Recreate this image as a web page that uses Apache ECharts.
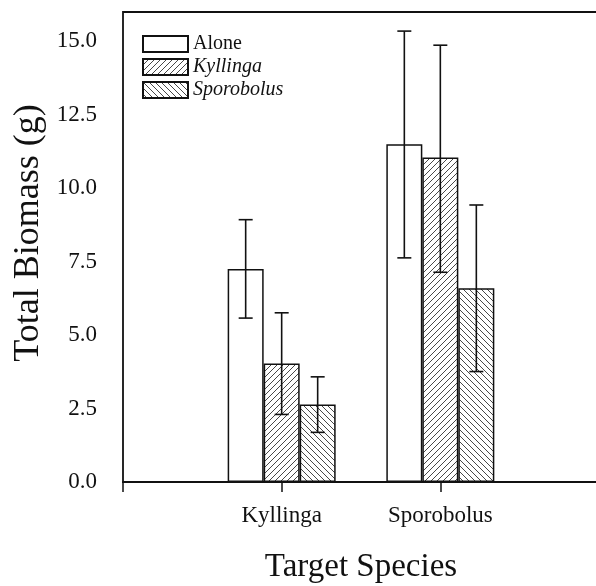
<!DOCTYPE html>
<html><head><meta charset="utf-8">
<script src="https://cdn.jsdelivr.net/npm/echarts@6/dist/echarts.min.js"></script>
<style>html,body{margin:0;padding:0;background:#fff}#c{width:596px;height:586px}</style>
</head><body><div id="c"></div>
<script>
// ---- data ----
var categories = ['', 'Kyllinga', 'Sporobolus', ''];
var seriesNames = ['Alone', 'Kyllinga', 'Sporobolus'];
var aloneMean = [null, 7.25, 11.5, null];
var kyllingaMean = [null, 4.03, 11.05, null];
var sporobolusMean = [null, 2.64, 6.6, null];
var aloneLow = [null, 5.58, 7.63, null];
var aloneHigh = [null, 8.93, 15.35, null];
var kyllingaLow = [null, 2.3, 7.14, null];
var kyllingaHigh = [null, 5.76, 14.87, null];
var sporobolusLow = [null, 1.69, 3.76, null];
var sporobolusHigh = [null, 3.58, 9.43, null];
var yTicks = [0, 2.5, 5, 7.5, 10, 12.5, 15];

function hatch(dir) {
  var s = 6, c = document.createElement('canvas');
  c.width = s; c.height = s;
  var g = c.getContext('2d');
  g.fillStyle = '#fff'; g.fillRect(0, 0, s, s);
  g.strokeStyle = '#333'; g.lineWidth = 0.9;
  g.beginPath();
  if (dir === '/') {
    g.moveTo(-1, s + 1); g.lineTo(s + 1, -1);
    g.moveTo(-1, 1); g.lineTo(1, -1);
    g.moveTo(s - 1, s + 1); g.lineTo(s + 1, s - 1);
  } else {
    g.moveTo(-1, -1); g.lineTo(s + 1, s + 1);
    g.moveTo(s - 1, -1); g.lineTo(s + 1, 1);
    g.moveTo(-1, s - 1); g.lineTo(1, s + 1);
  }
  g.stroke();
  return { image: c, repeat: 'repeat' };
}

var BW = 36;
var fills = ['#fff', hatch('/'), hatch('\\')];
var means = [aloneMean, kyllingaMean, sporobolusMean];
var lows = [aloneLow, kyllingaLow, sporobolusLow];
var highs = [aloneHigh, kyllingaHigh, sporobolusHigh];
var FONT = '"Liberation Serif", "Times New Roman", serif';

var series = [];
for (var k = 0; k < 3; k++) {
  series.push({
    name: seriesNames[k], type: 'bar', data: means[k], barWidth: BW, barGap: '0%',
    itemStyle: { color: fills[k], borderColor: '#111', borderWidth: 1.5 },
    emphasis: { disabled: true }, z: 2
  });
}
for (var k2 = 0; k2 < 3; k2++) {
  var ed = [];
  for (var i = 0; i < categories.length; i++) {
    if (lows[k2][i] != null) ed.push([i, lows[k2][i], highs[k2][i]]);
  }
  (function (kk) {
    series.push({
      type: 'custom', data: ed, z: 5, silent: true,
      encode: { x: 0, y: [1, 2] },
      renderItem: function (params, api) {
        var lo = api.coord([api.value(0), api.value(1)]);
        var hi = api.coord([api.value(0), api.value(2)]);
        var x = lo[0] + (kk - 1) * BW;
        var cw = 7;
        var st = { stroke: '#111', lineWidth: 1.6 };
        return { type: 'group', children: [
          { type: 'line', shape: { x1: x, y1: lo[1], x2: x, y2: hi[1] }, style: st },
          { type: 'line', shape: { x1: x - cw, y1: hi[1], x2: x + cw, y2: hi[1] }, style: st },
          { type: 'line', shape: { x1: x - cw, y1: lo[1], x2: x + cw, y2: lo[1] }, style: st }
        ]};
      }
    });
  })(k2);
}

var chart = echarts.init(document.getElementById('c'), null, { renderer: 'canvas' });
chart.setOption({
  animation: false,
  backgroundColor: '#fff',
  grid: { left: 123, top: 12, width: 476, height: 470, outerBoundsMode: 'none', containLabel: false,
    show: true, borderColor: '#111', borderWidth: 1.8, backgroundColor: 'transparent' },
  legend: {
    orient: 'vertical', left: 137, top: 29, itemWidth: 45, itemHeight: 16, itemGap: 3,
    icon: 'rect', selectedMode: false,
    textStyle: { fontFamily: FONT, fontSize: 20, color: '#111' },
    data: [
      { name: 'Alone' },
      { name: 'Kyllinga', textStyle: { fontStyle: 'italic' } },
      { name: 'Sporobolus', textStyle: { fontStyle: 'italic' } }
    ]
  },
  xAxis: {
    type: 'category', data: categories, boundaryGap: false,
    name: 'Target Species', nameLocation: 'middle', nameGap: 69, nameMoveOverlap: false,
    nameTextStyle: { fontFamily: FONT, fontSize: 33, color: '#111' },
    axisLine: { lineStyle: { color: '#111', width: 1.8 } },
    axisTick: { length: 10, lineStyle: { color: '#111', width: 1.5 } },
    axisLabel: { fontFamily: FONT, fontSize: 23, color: '#111', margin: 22 },
    splitLine: { show: false }
  },
  yAxis: {
    type: 'value', min: 0, max: 16, interval: 2.5,
    name: 'Total Biomass (g)', nameLocation: 'middle', nameGap: 76, nameMoveOverlap: false,
    nameTextStyle: { fontFamily: FONT, fontSize: 36, color: '#111', padding: [0, 0, 0, 28] },
    axisLine: { lineStyle: { color: '#111', width: 1.8 } },
    axisTick: { length: 13, lineStyle: { color: '#111', width: 1.5 } },
    axisLabel: { fontFamily: FONT, fontSize: 23, color: '#111', margin: 26,
      formatter: function (v) { return yTicks.indexOf(v) >= 0 ? v.toFixed(1) : ''; } },
    splitLine: { show: false }
  },
  series: series
});
</script></body></html>
